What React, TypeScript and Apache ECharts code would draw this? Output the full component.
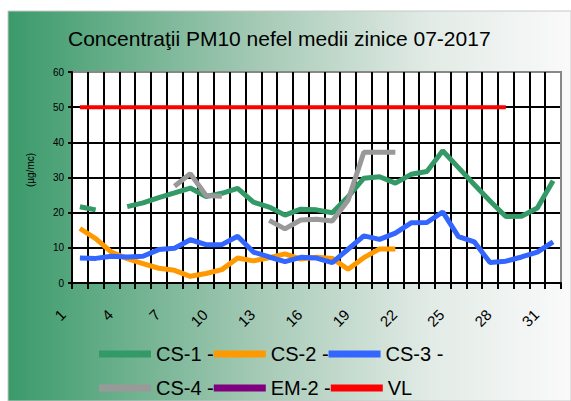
import React, { useEffect, useRef } from "react";
import * as echarts from "echarts";

const days = Array.from({ length: 31 }, (_, i) => String(i + 1));

const cs1 = [21.7, 20.8, null, 21.7, 22.8, 24.3, 25.6, 27.0, 24.6, 25.5, 26.9, 23.0, 21.6, 19.3, 21.0, 20.8, 20.0, 24.5, 29.8, 30.2, 28.4, 30.9, 31.7, 37.6, 32.8, 28.0, 23.3, 18.9, 19.0, 21.3, 29.1];
const cs2 = [15.5, 12.6, 8.8, 6.9, 5.5, 4.2, 3.6, 1.9, 2.7, 3.8, 7.1, 6.3, 7.2, 8.3, 6.8, 7.3, 7.0, 3.9, 7.2, 9.7, 9.7, null, null, null, null, null, null, null, null, null, null];
const cs3 = [7.1, 7.0, 7.6, 7.4, 7.6, 9.5, 9.9, 12.3, 10.9, 10.9, 13.3, 8.8, 7.4, 6.1, 7.3, 7.1, 5.8, 9.6, 13.4, 12.4, 14.2, 17.1, 17.2, 20.2, 13.2, 11.7, 5.8, 6.2, 7.4, 8.8, 11.7];
const cs4 = [null, null, null, null, null, null, 27.5, 31.1, 24.9, 24.7, null, null, 17.8, 15.4, 17.9, 18.1, 17.6, 23.5, 37.2, 37.2, 37.2, null, null, null, null, null, null, null, null, null, null];
const em2 = [null, null, null, null, null, null, null, null, null, null, null, null, null, null, null, null, null, null, null, null, null, null, null, null, null, null, null, null, null, null, null];
const vl = [50, 50, 50, 50, 50, 50, 50, 50, 50, 50, 50, 50, 50, 50, 50, 50, 50, 50, 50, 50, 50, 50, 50, 50, 50, 50, 50, 50, null, null, null];

const seriesNames = ["CS-1 -", "CS-2 -", "CS-3 -", "CS-4 -", "EM-2 -", "VL"];
const seriesColors = ["#339966", "#ff9900", "#3366ff", "#999999", "#800080", "#ff0000"];
const seriesData = [cs1, cs2, cs3, cs4, em2, vl];

const FONT = "'Liberation Sans', Arial, sans-serif";

export default function App() {
  const ref = useRef<HTMLDivElement>(null);
  useEffect(() => {
    if (!ref.current) return;
    const chart = echarts.init(ref.current, null, { renderer: "svg" });
    const xSplitColors = Array.from({ length: 32 }, (_, i) => (i === 31 ? "#888888" : "#000000"));
    const legendBase = {
      left: 94,
      icon: "rect",
      itemWidth: 52,
      itemHeight: 7,
      itemGap: 0,
      textStyle: { fontSize: 20, color: "#000", width: 82, overflow: "none", fontFamily: FONT },
    };
    const option: any = {
      animation: false,
      backgroundColor: "#ffffff",
      textStyle: { fontFamily: FONT },
      title: {
        text: "Concentraţii PM10 nefel medii zinice 07-2017",
        left: 63,
        top: 23,
        textStyle: { fontSize: 21, fontWeight: "normal", color: "#000", fontFamily: FONT },
      },
      graphic: [
        {
          type: "rect",
          z: -10,
          shape: { x: 8, y: 11, width: 563, height: 390 },
          style: {
            fill: new echarts.graphic.LinearGradient(0, 0, 1, 0, [
              { offset: 0, color: "#3a9a6a" },
              { offset: 0.45, color: "#a6cab6" },
              { offset: 0.75, color: "#e2ebe6" },
              { offset: 1, color: "#fafafa" },
            ]),
            stroke: "#c8c8c8",
            lineWidth: 1,
          },
        },
        {
          type: "text",
          x: 30,
          y: 170,
          rotation: Math.PI / 2,
          style: {
            text: "(µg/mc)",
            fill: "#000",
            fontSize: 10,
            fontFamily: FONT,
            align: "center",
            verticalAlign: "middle",
          },
        },
      ],
      legend: [
        { ...legendBase, data: seriesNames.slice(0, 3), top: 339 },
        { ...legendBase, data: seriesNames.slice(3), top: 373 },
      ],
      grid: {
        left: 72,
        top: 72,
        width: 489,
        height: 211,
        show: true,
        backgroundColor: "#ffffff",
        borderColor: "#888888",
        borderWidth: 2,
      },
      xAxis: {
        type: "category",
        data: days,
        boundaryGap: true,
        axisLine: { lineStyle: { color: "#000", width: 2 } },
        axisTick: { show: true, interval: 0, length: 6, lineStyle: { color: "#000", width: 2 } },
        splitLine: { show: true, interval: 0, lineStyle: { color: xSplitColors, width: 2 } },
        axisLabel: {
          interval: 2,
          rotate: 45,
          margin: 12,
          padding: [0, 24, 0, 0],
          fontSize: 15,
          color: "#000",
          fontFamily: FONT,
        },
      },
      yAxis: {
        type: "value",
        min: 0,
        max: 60,
        interval: 10,
        axisLine: { show: true, lineStyle: { color: "#000", width: 2 } },
        axisTick: { show: true, length: 4, lineStyle: { color: "#000", width: 2 } },
        splitLine: {
          show: true,
          lineStyle: { color: ["#000", "#000", "#000", "#000", "#000", "#000", "#888888"], width: 2 },
        },
        axisLabel: { fontSize: 10, color: "#000", margin: 8, fontFamily: FONT },
      },
      series: seriesNames.map((name, i) => ({
        name,
        type: "line",
        data: seriesData[i],
        symbol: "none",
        showSymbol: false,
        connectNulls: false,
        color: seriesColors[i],
        lineStyle: { color: seriesColors[i], width: i === 5 ? 4 : 5 },
        itemStyle: { color: seriesColors[i] },
      })),
    };
    chart.setOption(option);
    return () => chart.dispose();
  }, []);
  return (
    <div
      ref={ref}
      style={{ position: "absolute", left: 0, top: 0, width: 571, height: 401 }}
    />
  );
}
